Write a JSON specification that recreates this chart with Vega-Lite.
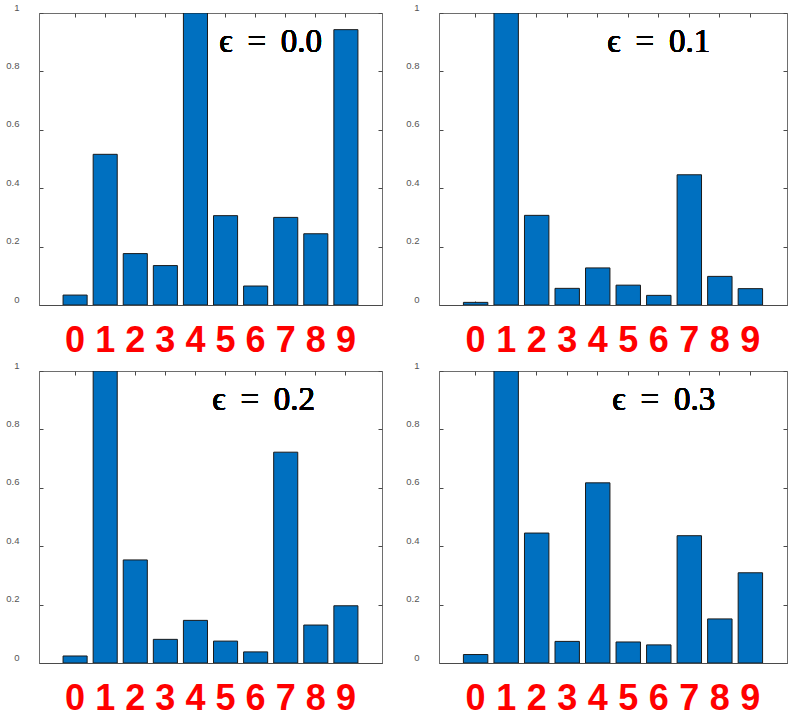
{
  "$schema": "https://vega.github.io/schema/vega-lite/v6.json",
  "background": "white",
  "padding": {"left": 5, "top": 1, "right": 5, "bottom": 2},
  "data": {"values": [
    {"eps": "0.0", "digit": 0, "value": 0.034},
    {"eps": "0.0", "digit": 1, "value": 0.516},
    {"eps": "0.0", "digit": 2, "value": 0.176},
    {"eps": "0.0", "digit": 3, "value": 0.135},
    {"eps": "0.0", "digit": 4, "value": 1.0},
    {"eps": "0.0", "digit": 5, "value": 0.306},
    {"eps": "0.0", "digit": 6, "value": 0.065},
    {"eps": "0.0", "digit": 7, "value": 0.300},
    {"eps": "0.0", "digit": 8, "value": 0.244},
    {"eps": "0.0", "digit": 9, "value": 0.943},
    {"eps": "0.1", "digit": 0, "value": 0.009},
    {"eps": "0.1", "digit": 1, "value": 1.0},
    {"eps": "0.1", "digit": 2, "value": 0.307},
    {"eps": "0.1", "digit": 3, "value": 0.057},
    {"eps": "0.1", "digit": 4, "value": 0.127},
    {"eps": "0.1", "digit": 5, "value": 0.068},
    {"eps": "0.1", "digit": 6, "value": 0.033},
    {"eps": "0.1", "digit": 7, "value": 0.446},
    {"eps": "0.1", "digit": 8, "value": 0.098},
    {"eps": "0.1", "digit": 9, "value": 0.056},
    {"eps": "0.2", "digit": 0, "value": 0.024},
    {"eps": "0.2", "digit": 1, "value": 1.0},
    {"eps": "0.2", "digit": 2, "value": 0.353},
    {"eps": "0.2", "digit": 3, "value": 0.081},
    {"eps": "0.2", "digit": 4, "value": 0.146},
    {"eps": "0.2", "digit": 5, "value": 0.075},
    {"eps": "0.2", "digit": 6, "value": 0.038},
    {"eps": "0.2", "digit": 7, "value": 0.722},
    {"eps": "0.2", "digit": 8, "value": 0.130},
    {"eps": "0.2", "digit": 9, "value": 0.196},
    {"eps": "0.3", "digit": 0, "value": 0.029},
    {"eps": "0.3", "digit": 1, "value": 1.0},
    {"eps": "0.3", "digit": 2, "value": 0.445},
    {"eps": "0.3", "digit": 3, "value": 0.074},
    {"eps": "0.3", "digit": 4, "value": 0.617},
    {"eps": "0.3", "digit": 5, "value": 0.072},
    {"eps": "0.3", "digit": 6, "value": 0.062},
    {"eps": "0.3", "digit": 7, "value": 0.436},
    {"eps": "0.3", "digit": 8, "value": 0.151},
    {"eps": "0.3", "digit": 9, "value": 0.309}
  ]},
  "columns": 2,
  "spacing": {"row": 0, "column": 22},
  "align": "each",
  "config": {
    "view": {"stroke": "#6e6e6e", "strokeWidth": 1},
    "axis": {"title": null, "grid": false}
  },
  "concat": [
    {
      "width": 343, "height": 292,
      "transform": [{"filter": "datum.eps == '0.0'"}],
      "layer": [
        {"mark": {"type": "bar", "color": "#0070C0", "stroke": "#1a1a1a", "strokeWidth": 1, "clip": true},
         "encoding": {
           "x": {"field": "digit", "type": "ordinal", "scale": {"paddingInner": 0.2, "paddingOuter": 0.8},
                 "axis": {"orient": "bottom", "labelAngle": 0, "domainColor": "#4a4a4a", "tickColor": "#4a4a4a", "tickSize": -4, "labelPadding": 22, "labelFont": "Liberation Sans", "labelFontWeight": "bold", "labelFontSize": 36, "labelColor": "#FF0000",
                          "encode": {"labels": {"update": {"dx": {"signal": "-5.8 + 0.84 * datum.value"}}}}}},
           "y": {"field": "value", "type": "quantitative", "scale": {"domain": [0, 1], "nice": false},
                 "axis": {"orient": "left", "values": [0, 0.2, 0.4, 0.6, 0.8, 1], "format": "~g", "domainColor": "#6e6e6e", "tickColor": "#4a4a4a", "tickSize": -4, "labelPadding": 24, "labelOffset": -6, "labelFont": "Liberation Sans", "labelFontSize": 9.5, "labelColor": "#555555"}}
         }},
        {"mark": {"type": "bar", "opacity": 0},
         "encoding": {
           "x": {"field": "digit", "type": "ordinal", "axis": {"orient": "top", "labels": false, "domain": false, "tickColor": "#4a4a4a", "tickSize": -4}},
           "y": {"field": "value", "type": "quantitative", "axis": {"orient": "right", "values": [0, 0.2, 0.4, 0.6, 0.8, 1], "labels": false, "domain": false, "tickColor": "#4a4a4a", "tickSize": -4}}
         }},
        {"mark": {"type": "text", "font": "Liberation Serif", "fontSize": 33, "color": "black", "baseline": "middle", "align": "center", "dx": 15},
         "encoding": {
           "x": {"datum": 6, "type": "ordinal", "axis": null},
           "y": {"datum": 0.9, "type": "quantitative", "axis": null},
           "text": {"value": "ϵ \u2009= \u20090.0"}
         }}
      ],
      "resolve": {"axis": {"x": "independent", "y": "independent"}}
    },
    {
      "width": 348, "height": 292,
      "transform": [{"filter": "datum.eps == '0.1'"}],
      "layer": [
        {"mark": {"type": "bar", "color": "#0070C0", "stroke": "#1a1a1a", "strokeWidth": 1, "clip": true},
         "encoding": {
           "x": {"field": "digit", "type": "ordinal", "scale": {"paddingInner": 0.2, "paddingOuter": 0.8},
                 "axis": {"orient": "bottom", "labelAngle": 0, "domainColor": "#4a4a4a", "tickColor": "#4a4a4a", "tickSize": -4, "labelPadding": 22, "labelFont": "Liberation Sans", "labelFontWeight": "bold", "labelFontSize": 36, "labelColor": "#FF0000",
                          "encode": {"labels": {"update": {"dx": {"signal": "-0.3 + 0.34 * datum.value"}}}}}},
           "y": {"field": "value", "type": "quantitative", "scale": {"domain": [0, 1], "nice": false},
                 "axis": {"orient": "left", "values": [0, 0.2, 0.4, 0.6, 0.8, 1], "format": "~g", "domainColor": "#6e6e6e", "tickColor": "#4a4a4a", "tickSize": -4, "labelPadding": 24, "labelOffset": -6, "labelFont": "Liberation Sans", "labelFontSize": 9.5, "labelColor": "#555555"}}
         }},
        {"mark": {"type": "bar", "opacity": 0},
         "encoding": {
           "x": {"field": "digit", "type": "ordinal", "axis": {"orient": "top", "labels": false, "domain": false, "tickColor": "#4a4a4a", "tickSize": -4}},
           "y": {"field": "value", "type": "quantitative", "axis": {"orient": "right", "values": [0, 0.2, 0.4, 0.6, 0.8, 1], "labels": false, "domain": false, "tickColor": "#4a4a4a", "tickSize": -4}}
         }},
        {"mark": {"type": "text", "font": "Liberation Serif", "fontSize": 33, "color": "black", "baseline": "middle", "align": "center", "dx": 0},
         "encoding": {
           "x": {"datum": 6, "type": "ordinal", "axis": null},
           "y": {"datum": 0.9, "type": "quantitative", "axis": null},
           "text": {"value": "ϵ \u2009= \u20090.1"}
         }}
      ],
      "resolve": {"axis": {"x": "independent", "y": "independent"}}
    },
    {
      "width": 343, "height": 292,
      "transform": [{"filter": "datum.eps == '0.2'"}],
      "layer": [
        {"mark": {"type": "bar", "color": "#0070C0", "stroke": "#1a1a1a", "strokeWidth": 1, "clip": true},
         "encoding": {
           "x": {"field": "digit", "type": "ordinal", "scale": {"paddingInner": 0.2, "paddingOuter": 0.8},
                 "axis": {"orient": "bottom", "labelAngle": 0, "domainColor": "#4a4a4a", "tickColor": "#4a4a4a", "tickSize": -4, "labelPadding": 22, "labelFont": "Liberation Sans", "labelFontWeight": "bold", "labelFontSize": 36, "labelColor": "#FF0000",
                          "encode": {"labels": {"update": {"dx": {"signal": "-1.8 + 0.84 * datum.value"}}}}}},
           "y": {"field": "value", "type": "quantitative", "scale": {"domain": [0, 1], "nice": false},
                 "axis": {"orient": "left", "values": [0, 0.2, 0.4, 0.6, 0.8, 1], "format": "~g", "domainColor": "#6e6e6e", "tickColor": "#4a4a4a", "tickSize": -4, "labelPadding": 24, "labelOffset": -6, "labelFont": "Liberation Sans", "labelFontSize": 9.5, "labelColor": "#555555"}}
         }},
        {"mark": {"type": "bar", "opacity": 0},
         "encoding": {
           "x": {"field": "digit", "type": "ordinal", "axis": {"orient": "top", "labels": false, "domain": false, "tickColor": "#4a4a4a", "tickSize": -4}},
           "y": {"field": "value", "type": "quantitative", "axis": {"orient": "right", "values": [0, 0.2, 0.4, 0.6, 0.8, 1], "labels": false, "domain": false, "tickColor": "#4a4a4a", "tickSize": -4}}
         }},
        {"mark": {"type": "text", "font": "Liberation Serif", "fontSize": 33, "color": "black", "baseline": "middle", "align": "center", "dx": 8},
         "encoding": {
           "x": {"datum": 6, "type": "ordinal", "axis": null},
           "y": {"datum": 0.9, "type": "quantitative", "axis": null},
           "text": {"value": "ϵ \u2009= \u20090.2"}
         }}
      ],
      "resolve": {"axis": {"x": "independent", "y": "independent"}}
    },
    {
      "width": 348, "height": 292,
      "transform": [{"filter": "datum.eps == '0.3'"}],
      "layer": [
        {"mark": {"type": "bar", "color": "#0070C0", "stroke": "#1a1a1a", "strokeWidth": 1, "clip": true},
         "encoding": {
           "x": {"field": "digit", "type": "ordinal", "scale": {"paddingInner": 0.2, "paddingOuter": 0.8},
                 "axis": {"orient": "bottom", "labelAngle": 0, "domainColor": "#4a4a4a", "tickColor": "#4a4a4a", "tickSize": -4, "labelPadding": 22, "labelFont": "Liberation Sans", "labelFontWeight": "bold", "labelFontSize": 36, "labelColor": "#FF0000",
                          "encode": {"labels": {"update": {"dx": {"signal": "1.9 + 0.34 * datum.value"}}}}}},
           "y": {"field": "value", "type": "quantitative", "scale": {"domain": [0, 1], "nice": false},
                 "axis": {"orient": "left", "values": [0, 0.2, 0.4, 0.6, 0.8, 1], "format": "~g", "domainColor": "#6e6e6e", "tickColor": "#4a4a4a", "tickSize": -4, "labelPadding": 24, "labelOffset": -6, "labelFont": "Liberation Sans", "labelFontSize": 9.5, "labelColor": "#555555"}}
         }},
        {"mark": {"type": "bar", "opacity": 0},
         "encoding": {
           "x": {"field": "digit", "type": "ordinal", "axis": {"orient": "top", "labels": false, "domain": false, "tickColor": "#4a4a4a", "tickSize": -4}},
           "y": {"field": "value", "type": "quantitative", "axis": {"orient": "right", "values": [0, 0.2, 0.4, 0.6, 0.8, 1], "labels": false, "domain": false, "tickColor": "#4a4a4a", "tickSize": -4}}
         }},
        {"mark": {"type": "text", "font": "Liberation Serif", "fontSize": 33, "color": "black", "baseline": "middle", "align": "center", "dx": 5},
         "encoding": {
           "x": {"datum": 6, "type": "ordinal", "axis": null},
           "y": {"datum": 0.9, "type": "quantitative", "axis": null},
           "text": {"value": "ϵ \u2009= \u20090.3"}
         }}
      ],
      "resolve": {"axis": {"x": "independent", "y": "independent"}}
    }
  ]
}
